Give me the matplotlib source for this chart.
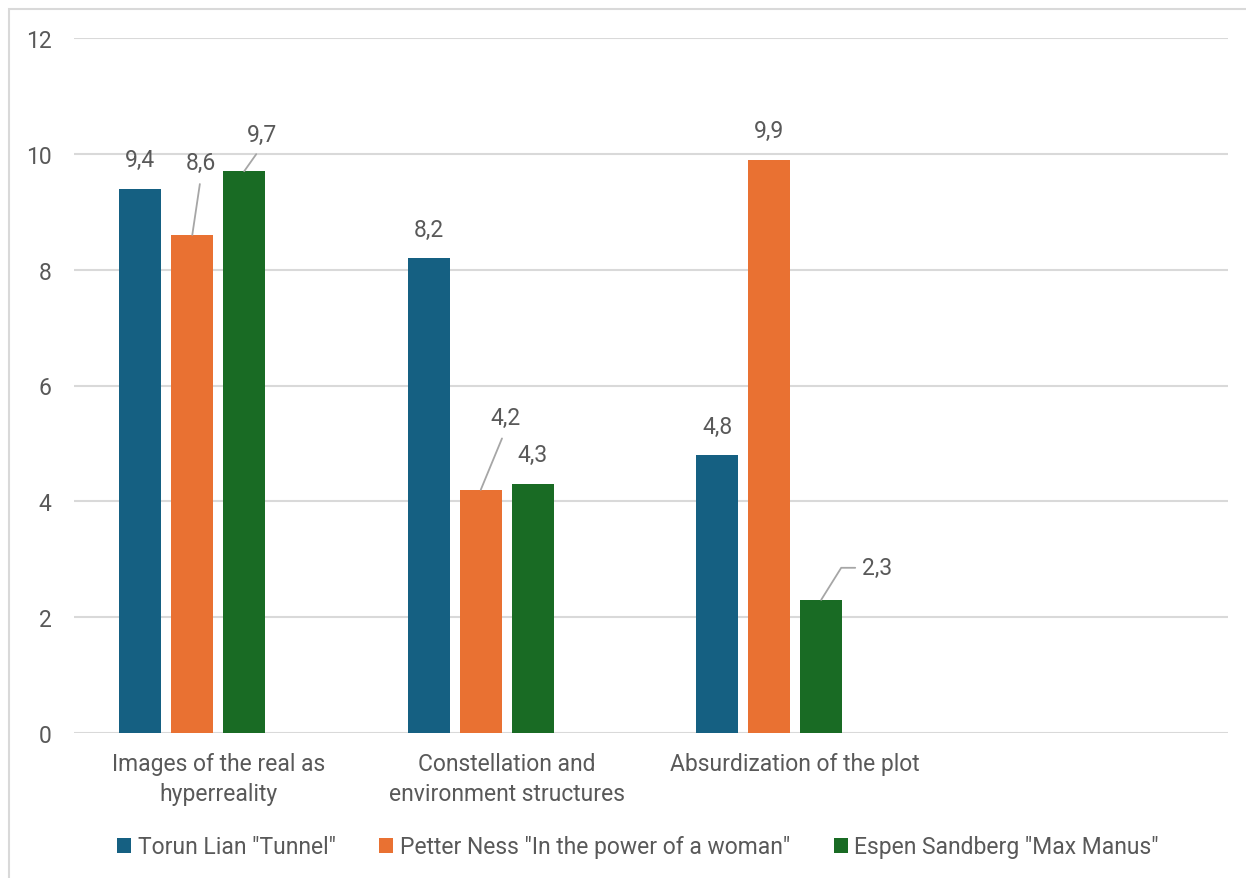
import numpy as np
import matplotlib
matplotlib.use("Agg")
import matplotlib.pyplot as plt
from matplotlib.patches import Rectangle

plt.rcParams['font.family'] = ['Roboto', 'DejaVu Sans']

categories = ["Images of the real as\nhyperreality",
              "Constellation and\nenvironment structures",
              "Absurdization of the plot",
              ""]
series_names = ['Torun Lian "Tunnel"',
                'Petter Ness "In the power of a woman"',
                'Espen Sandberg "Max Manus"']
tunnel = [9.4, 8.2, 4.8, np.nan]
woman = [8.6, 4.2, 9.9, np.nan]
max_manus = [9.7, 4.3, 2.3, np.nan]

colors = ["#156082", "#E97132", "#196B24"]
text_col = "#595959"
grid_col = "#D9D9D9"
leader_col = "#A6A6A6"
fs = 16.5

# label placement per bar: None = plain label above, else (dx, dy, connection) in pixels
leaders = {
    (1, 0): (9, -72, "arc3"),
    (2, 0): (18, -37, "arc3"),
    (1, 1): (25, -72, "arc3"),
    (2, 2): (56, -32, "angle"),
}

fig = plt.figure(figsize=(12.46, 8.79), dpi=100)
ax = fig.add_axes([74 / 1246, 1 - 734 / 879, (1228 - 74) / 1246, (734 - 39) / 879])

x = np.arange(len(categories))
width = 0.1456
step = 0.18
all_series = [tunnel, woman, max_manus]
for i, (vals, name, c) in enumerate(zip(all_series, series_names, colors)):
    pos = x + (i - 1.5) * step
    ax.bar(pos, vals, width=width, color=c, label=name, zorder=3)
    for j, v in enumerate(vals):
        if np.isnan(v):
            continue
        lbl = f"{v:.1f}".replace(".", ",")
        if (i, j) in leaders:
            dx, dy, conn = leaders[(i, j)]
            if conn == "angle":
                ap = dict(arrowstyle="-", color=leader_col, lw=1.3,
                          connectionstyle="angle,angleA=0,angleB=58,rad=0",
                          relpos=(0, 0.5), shrinkA=3, shrinkB=0)
            else:
                ap = dict(arrowstyle="-", color=leader_col, lw=1.3,
                          relpos=(0.5, 0), shrinkA=5, shrinkB=0)
            ax.annotate(lbl, (pos[j], v), xytext=(dx, -dy), textcoords="offset pixels",
                        ha="center", va="center", fontsize=fs, color=text_col,
                        arrowprops=ap, zorder=4)
        else:
            ax.annotate(lbl, (pos[j], v), xytext=(0, 29), textcoords="offset pixels",
                        ha="center", va="center", fontsize=fs, color=text_col, zorder=4)

ax.set_xlim(-0.5, len(categories) - 0.5)
ax.set_ylim(0, 12)
ax.set_yticks(np.arange(0, 13, 2))
ax.set_xticks(x)
ax.set_xticklabels(categories, linespacing=1.35)
ax.tick_params(axis="both", length=0, labelsize=fs, labelcolor=text_col)
ax.tick_params(axis="x", pad=14)
ax.tick_params(axis="y", pad=16)
ax.grid(axis="y", color=grid_col, lw=1.5, zorder=0)
for s in ax.spines.values():
    s.set_visible(False)

fig.legend(loc="center", bbox_to_anchor=(638 / 1246, 1 - 848 / 879), ncol=3,
           frameon=False, fontsize=fs, labelcolor=text_col, handlelength=0.62,
           handleheight=0.62, handletextpad=0.28, columnspacing=1.9)

# chart area outline
fig.patches.append(Rectangle((9 / 1246, -0.1), 1.2, 1.1 - 10 / 879,
                             transform=fig.transFigure, fill=False,
                             edgecolor=grid_col, lw=1.5))

fig.savefig("out.png", dpi=100)
